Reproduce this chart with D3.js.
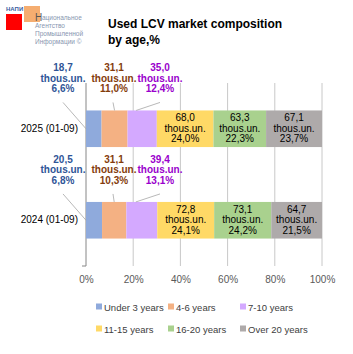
<!DOCTYPE html>
<html>
<head>
<meta charset="utf-8">
<script src="https://cdn.jsdelivr.net/npm/d3@7"></script>
<style>
  body { margin: 0; background: #fff; }
  svg { font-family: 'Liberation Sans', Arial, sans-serif; }
</style>
</head>
<body>
<div id="chart"></div>
<script>
// Data
const periods = ['2025 (01-09)', '2024 (01-09)'];
const ageGroups = ['Under 3 years', '4-6 years', '7-10 years', '11-15 years', '16-20 years', 'Over 20 years'];
const shares2025 = [6.6, 11.0, 12.4, 24.0, 22.3, 23.7];
const shares2024 = [6.8, 10.3, 13.1, 24.1, 24.2, 21.5];
const units2025 = ['18,7', '31,1', '35,0', '68,0', '63,3', '67,1'];
const units2024 = ['20,5', '31,1', '39,4', '72,8', '73,1', '64,7'];
const xTicks = [0, 20, 40, 60, 80, 100];

const colors = ['#8FAADC', '#F4B183', '#D4A9FF', '#FFD966', '#A9D18E', '#AEAAAA'];
const outerLabelColors = ['#2F5597', '#843C0C', '#9900CC'];

const rows = [
  {period: periods[0], shares: shares2025, units: units2025},
  {period: periods[1], shares: shares2024, units: units2024}
];

const width = 353, height = 354;
const svg = d3.select('#chart').append('svg')
  .attr('width', width)
  .attr('height', height);

// Logo
const logo = svg.append('g');
logo.append('rect').attr('x', 6).attr('y', 14).attr('width', 16).attr('height', 16).attr('fill', '#FF0000');
logo.append('rect').attr('x', 24).attr('y', 6).attr('width', 16).attr('height', 16).attr('fill', '#F4A460').attr('opacity', 0.9);
logo.append('text').attr('x', 6).attr('y', 11).text('НАПИ')
  .style('font-size', '6px').attr('fill', '#3A5BA0').style('font-weight', 700);
logo.append('text').attr('x', 35).attr('y', 21).text('Н')
  .style('font-size', '10px').attr('fill', '#555');
const logoLines = ['ациональное', 'Агентство', 'Промышленной', 'Информации ©'];
logoLines.forEach((t, i) => {
  logo.append('text')
    .attr('x', i === 0 ? 42 : 35)
    .attr('y', 20 + i * 8)
    .text(t)
    .style('font-size', '6.5px')
    .attr('fill', '#8896B0');
});

// Title
const title = svg.append('text')
  .attr('x', 108)
  .attr('y', 28)
  .style('font-size', '12px')
  .style('font-weight', 700)
  .attr('fill', '#000');
title.append('tspan').attr('x', 108).attr('dy', 0).text('Used LCV market composition');
title.append('tspan').attr('x', 108).attr('dy', 16).text('by age,%');

// Scales
const x = d3.scaleLinear().domain([0, 100]).range([86, 322]);
const y = d3.scaleBand().domain(periods).range([83, 266]).paddingInner(0.6).paddingOuter(0.3);

// Gridlines
svg.append('g')
  .selectAll('line')
  .data(xTicks.slice(1))
  .join('line')
    .attr('x1', d => x(d))
    .attr('x2', d => x(d))
    .attr('y1', 83)
    .attr('y2', 266)
    .attr('stroke', '#C8C8C8')
    .attr('stroke-width', 1);

// X axis labels
svg.append('g')
  .attr('transform', 'translate(0,266)')
  .call(d3.axisBottom(x).tickValues(xTicks).tickFormat(d => d + '%').tickSize(0).tickPadding(10))
  .call(g => g.select('.domain').remove())
  .call(g => g.selectAll('text').style('font-size', '10px').style('font-family', "'Liberation Sans', Arial, sans-serif").attr('fill', '#595959'));

// Y axis
svg.append('g')
  .attr('transform', 'translate(86,0)')
  .call(d3.axisLeft(y).tickSize(0).tickPadding(8))
  .call(g => g.select('.domain').remove())
  .call(g => g.selectAll('text').style('font-size', '10px').style('font-family', "'Liberation Sans', Arial, sans-serif").attr('fill', '#000'));

svg.append('line')
  .attr('x1', x(0)).attr('x2', x(0))
  .attr('y1', 83).attr('y2', 266)
  .attr('stroke', '#868686');
svg.append('line')
  .attr('x1', x(0) - 4).attr('x2', x(0))
  .attr('y1', 266).attr('y2', 266)
  .attr('stroke', '#868686');

// Stacked bars
rows.forEach(row => {
  const segs = [];
  let acc = 0;
  row.shares.forEach((v, i) => {
    segs.push({i, x0: acc, x1: acc + v, v, u: row.units[i]});
    acc += v;
  });
  row.segs = segs;
});

const barGroups = svg.append('g')
  .selectAll('g')
  .data(rows)
  .join('g');

barGroups.selectAll('rect')
  .data(d => d.segs)
  .join('rect')
    .attr('x', d => x(d.x0))
    .attr('width', d => x(d.x1) - x(d.x0))
    .attr('y', function() { return y(d3.select(this.parentNode).datum().period); })
    .attr('height', y.bandwidth())
    .attr('fill', d => colors[d.i]);

const fmt = v => v.toFixed(1).replace('.', ',') + '%';

// Inner labels for wide segments
barGroups.each(function(row) {
  const g = d3.select(this);
  const cy = y(row.period) + y.bandwidth() / 2;
  row.segs.filter(s => s.i >= 3).forEach(s => {
    const t = g.append('text')
      .attr('text-anchor', 'middle')
      .attr('x', x((s.x0 + s.x1) / 2))
      .attr('y', cy - 7.5)
      .style('font-size', '10px')
      .attr('fill', '#000');
    [s.u, 'thous.un.', fmt(s.v)].forEach((line, k) => {
      t.append('tspan').attr('x', x((s.x0 + s.x1) / 2)).attr('dy', k === 0 ? 0 : 10.5).text(line);
    });
  });

  // Outer labels with leader lines for narrow segments
  const labelX = [63, 114, 160];
  const topY = y(row.period) - 39;
  row.segs.filter(s => s.i < 3).forEach(s => {
    const lx = labelX[s.i];
    const ty = s.i === 0 ? cy : y(row.period);
    g.append('line')
      .attr('x1', s.i === 0 ? lx : lx - (s.i === 2 ? 0 : 1))
      .attr('y1', topY + 31)
      .attr('x2', s.i === 0 ? x(s.x0) : x((s.x0 + s.x1) / 2) - (s.i === 2 ? 6 : 0))
      .attr('y2', ty)
      .attr('stroke', '#A6A6A6')
      .attr('stroke-width', 0.8);
    const t = g.append('text')
      .attr('text-anchor', 'middle')
      .attr('x', lx)
      .attr('y', topY)
      .style('font-size', '10px')
      .style('font-weight', 700)
      .attr('fill', outerLabelColors[s.i]);
    [s.u, 'thous.un.', fmt(s.v)].forEach((line, k) => {
      t.append('tspan').attr('x', lx).attr('dy', k === 0 ? 0 : 10.5).text(line);
    });
  });
});

// Legend
const legend = svg.append('g')
  .selectAll('g')
  .data(ageGroups)
  .join('g')
    .attr('transform', (d, i) => `translate(${[96, 168, 240][i % 3]},${i < 3 ? 307 : 329})`);
legend.append('rect')
  .attr('x', 0).attr('y', -3.5)
  .attr('width', 6).attr('height', 6)
  .attr('fill', (d, i) => colors[i]);
legend.append('text')
  .attr('x', 8)
  .attr('y', 3.5)
  .style('font-size', '9.5px')
  .attr('fill', '#404040')
  .text(d => d);
</script>
</body>
</html>
